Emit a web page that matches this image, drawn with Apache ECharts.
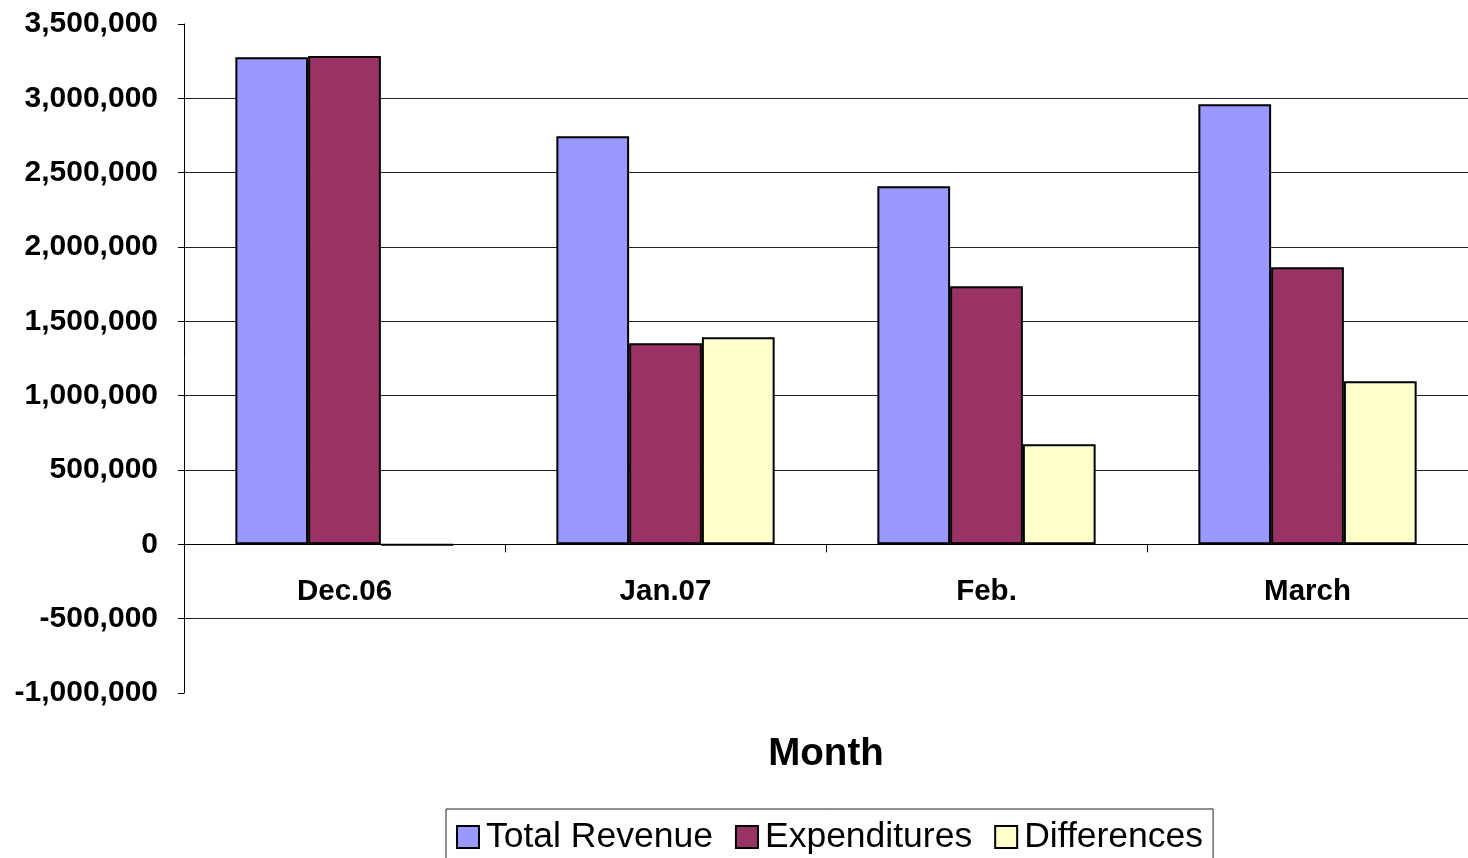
<!DOCTYPE html>
<html>
<head>
<meta charset="utf-8">
<script src="https://cdn.jsdelivr.net/npm/echarts@6/dist/echarts.min.js"></script>
<style>
  html, body { margin: 0; padding: 0; background: #fff; }
  #chart { width: 1468px; height: 858px; }
</style>
</head>
<body>
<div id="chart"></div>
<script>
// categories and values
const months = ['Dec.06', 'Jan.07', 'Feb.', 'March']
const totalRevenue = [3277000, 2745000, 2409000, 2961000]
const expenditures = [3284000, 1353000, 1736000, 1864000]
const differences = [-4000, 1393000, 673000, 1097000]

const font = '"Liberation Sans", Arial, sans-serif'
const chart = echarts.init(document.getElementById('chart'))

function barSeries(name, data, color) {
  return {
    name: name,
    type: 'bar',
    data: data,
    barGap: '0%',
    barCategoryGap: '32%',
    itemStyle: { color: color, borderColor: '#000', borderWidth: 2 }
  }
}

chart.setOption({
  animation: false,
  grid: { left: 184, right: 0, top: 24, bottom: 165, containLabel: false, outerBoundsMode: 'none' },
  legend: {
    top: 809,
    left: 446,
    padding: [10, 10, 10, 10],
    itemGap: 22,
    itemWidth: 22,
    itemHeight: 22,
    borderColor: '#222',
    borderWidth: 1,
    icon: 'rect',
    itemStyle: { borderColor: '#000', borderWidth: 2 },
    textStyle: { fontFamily: font, fontSize: 35.5, color: '#000', padding: [0, 0, 0, 2] }
  },
  xAxis: {
    type: 'category',
    data: months,
    name: 'Month',
    nameLocation: 'middle',
    nameGap: 42,
    nameTextStyle: { fontFamily: font, fontSize: 38.5, fontWeight: 'bold', color: '#000' },
    axisLine: { onZero: true, lineStyle: { color: '#000', width: 1 } },
    axisTick: { show: true, length: 8, lineStyle: { color: '#000' } },
    // labels sit just under the zero line, not under the grid bottom
    axisLabel: { margin: -116, fontFamily: font, fontSize: 29.5, fontWeight: 'bold', color: '#000' }
  },
  yAxis: {
    type: 'value',
    min: -1000000,
    max: 3500000,
    interval: 500000,
    axisLine: { show: true, lineStyle: { color: '#000', width: 1 } },
    axisTick: { show: true, length: 6, lineStyle: { color: '#000' } },
    axisLabel: {
      margin: 26,
      fontFamily: font,
      fontSize: 30,
      fontWeight: 'bold',
      color: '#000',
      formatter: v => v.toLocaleString('en-US')
    },
    splitLine: { show: true, showMinLine: false, showMaxLine: false, lineStyle: { color: '#222', width: 1 } }
  },
  series: [
    barSeries('Total Revenue', totalRevenue, '#9999FF'),
    barSeries('Expenditures', expenditures, '#993366'),
    barSeries('Differences', differences, '#FFFFCC')
  ]
})
</script>
</body>
</html>
